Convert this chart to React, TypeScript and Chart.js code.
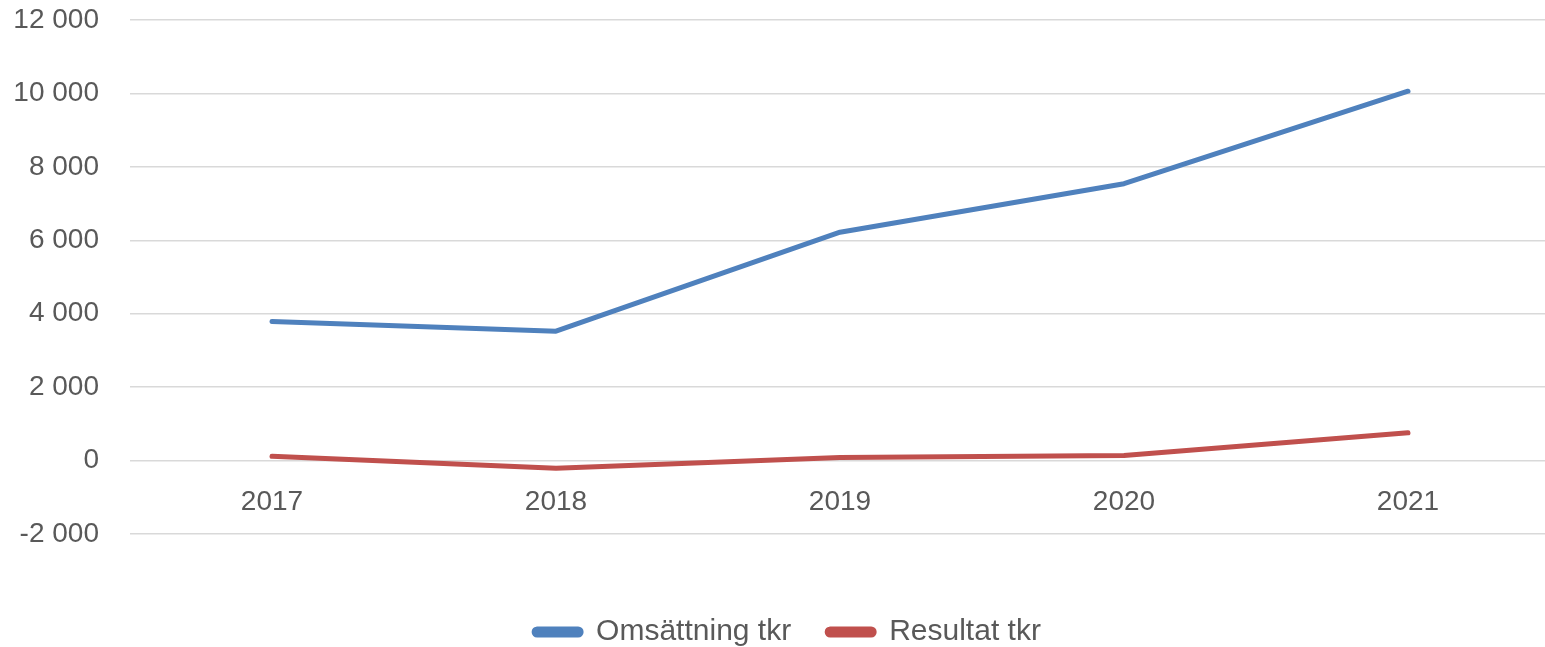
import React, { useEffect, useRef } from "react";
import { Chart, registerables } from "chart.js";

Chart.register(...registerables);

const years = ["2017", "2018", "2019", "2020", "2021"];
const omsattning = [3790, 3525, 6220, 7540, 10060];
const resultat = [115, -210, 85, 140, 755];
const seriesNames = ["Omsättning tkr", "Resultat tkr"];

const FONT = "'Liberation Sans', Arial, sans-serif";
const TEXT = "#595959";

const fmt = (v: number) => {
  const s = String(Math.abs(v)).replace(/\B(?=(\d{3})+(?!\d))/g, " ");
  return (v < 0 ? "-" : "") + s;
};

export default function App() {
  const ref = useRef<HTMLCanvasElement | null>(null);
  useEffect(() => {
    document.body.style.margin = "0";
    document.body.style.overflow = "hidden";
    if (!ref.current) return;
    const chart = new Chart(ref.current, {
      type: "line",
      data: {
        labels: years,
        datasets: [
          {
            label: seriesNames[0],
            data: omsattning,
            xAxisID: "x",
            yAxisID: "y",
            borderColor: "#4F81BD",
            backgroundColor: "#4F81BD",
            borderWidth: 5,
            pointRadius: 0,
            borderCapStyle: "round",
            borderJoinStyle: "round",
            tension: 0,
          },
          {
            label: seriesNames[1],
            data: resultat,
            xAxisID: "x",
            yAxisID: "y",
            borderColor: "#C0504D",
            backgroundColor: "#C0504D",
            borderWidth: 5,
            pointRadius: 0,
            borderCapStyle: "round",
            borderJoinStyle: "round",
            tension: 0,
          },
        ],
      },
      options: {
        animation: false,
        responsive: false,
        maintainAspectRatio: false,
        layout: { padding: { top: 20, right: 0, left: 0, bottom: 0 } },
        plugins: {
          tooltip: { enabled: false },
          legend: {
            position: "bottom",
            labels: {
              color: TEXT,
              font: { family: FONT, size: 30 },
              boxWidth: 47,
              boxHeight: 6,
              padding: 36,
              useBorderRadius: true,
              borderRadius: 3,
            } as any,
          },
        },
        scales: {
          x: {
            type: "category",
            position: { y: 0 } as any,
            offset: true,
            grid: { display: false, drawTicks: false },
            border: { display: false },
            ticks: {
              color: TEXT,
              font: { family: FONT, size: 28 },
              padding: 25,
              maxRotation: 0,
            },
          },
          y: {
            type: "linear",
            position: "left",
            min: -2000,
            max: 12000,
            afterFit: (s: any) => {
              s.width = 130;
            },
            grid: {
              color: "#D9D9D9",
              lineWidth: 1.5,
              drawTicks: true,
              tickLength: 31,
              tickColor: "rgba(0,0,0,0)",
            },
            border: { display: false },
            ticks: {
              stepSize: 2000,
              color: TEXT,
              font: { family: FONT, size: 28 },
              padding: 0,
              callback: (v: any) => fmt(Number(v)),
            },
          },
          gap: {
            type: "linear",
            axis: "x",
            position: "bottom",
            min: 0,
            max: 1,
            grid: { display: false, drawTicks: false },
            border: { display: false },
            ticks: { display: false },
            afterFit: (s: any) => {
              s.height = 47;
            },
          },
          pad: {
            type: "linear",
            axis: "y",
            position: "right",
            min: 0,
            max: 1,
            grid: { display: false, drawTicks: false },
            border: { display: false },
            ticks: { display: false },
            afterFit: (s: any) => {
              s.width = 25;
            },
          },
        },
      } as any,
    });
    return () => chart.destroy();
  }, []);
  return (
    <div style={{ width: 1545, height: 647, overflow: "hidden" }}>
      <canvas ref={ref} width={1575} height={657} style={{ display: "block" }} />
    </div>
  );
}
